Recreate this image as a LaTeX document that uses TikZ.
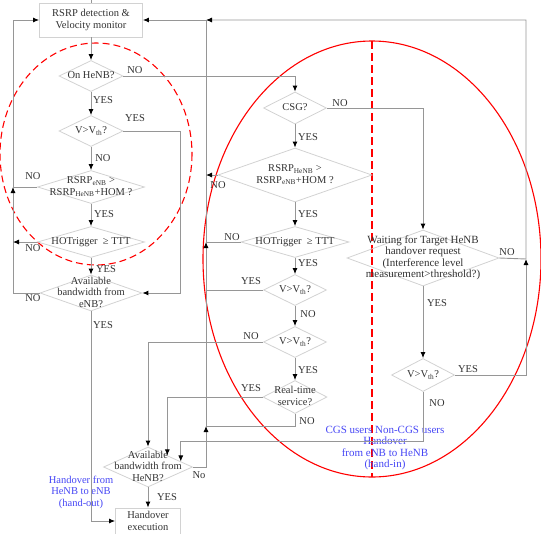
\documentclass[tikz,border=0pt]{standalone}
\usepackage{fontspec}
\setmainfont{Liberation Serif}
\usepackage{xcolor}
\usepackage{tikz}
\usetikzlibrary{arrows.meta, shapes.geometric, calc}
\definecolor{wiregray}{RGB}{150, 150, 150}
\definecolor{shapegray}{RGB}{210, 210, 210}
\definecolor{inkgray}{RGB}{50, 50, 50}
\definecolor{handblue}{RGB}{70, 70, 245}

% text inside a diamond, not counted in its size
\newcommand{\qtext}[1]{\makebox[0pt]{\smash{\raisebox{-3pt}{\begin{tabular}[c]{@{}c@{}}#1\end{tabular}}}}}

\tikzset{
  decision/.style={diamond, draw=shapegray, line width=0.8pt, inner sep=0pt},
  procbox/.style={rectangle, draw=shapegray, line width=0.8pt, align=center, inner sep=0pt},
  flow/.style={draw=wiregray, line width=0.9pt},
  arr/.style={flow, -{Latex[length=6pt, width=5pt, color=black]}},
  lbl/.style={inner sep=0pt},
  zone/.style={red, line width=1.1pt},
  bluenote/.style={text=handblue, align=center, inner sep=0pt}
}

\begin{document}
\begin{tikzpicture}[x=1pt, y=-1pt, font=\fontsize{10.5}{11.5}\selectfont, text=inkgray]
        \useasboundingbox (0, 0) rectangle (541, 533);
        \clip (0, 0) rectangle (541, 533);

        % Red zones
        \draw[zone, dash pattern=on 7pt off 4pt] (96, 154) ellipse [x radius=96, y radius=111];
        \draw[zone] (372, 259) ellipse [x radius=169, y radius=218];
        \draw[zone, line width=1.4pt, dash pattern=on 8pt off 4pt] (372, 41) -- (372, 477);

        % Left branch
        \node[procbox, minimum width=103, minimum height=34] (monitor) at (91, 20) {RSRP detection \&\\Velocity monitor};
        \node[decision, minimum width=64, minimum height=31] (onhenb) at (91, 76) {\qtext{On HeNB?}};
        \node[decision, minimum width=64, minimum height=31] (vleft) at (91, 131) {\qtext{V>V\textsubscript{th}?}};
        \node[decision, minimum width=107, minimum height=33] (rsrpenb) at (91, 187) {\qtext{RSRP\textsubscript{eNB} >\\RSRP\textsubscript{HeNB}+HOM ?}};
        \node[decision, minimum width=107, minimum height=31] (hotleft) at (91, 242) {\qtext{HOTrigger \ ≥ TTT}};
        \node[decision, minimum width=102, minimum height=36] (bwenb) at (91, 293) {\qtext{Available\\bandwidth from\\eNB?}};

        % Middle branch
        \node[decision, minimum width=63, minimum height=32] (csg) at (295, 108) {\qtext{CSG?}};
        \node[decision, minimum width=154, minimum height=54] (rsrphenb) at (295, 175) {\qtext{RSRP\textsubscript{HeNB} >\\RSRP\textsubscript{eNB}+HOM ?}};
        \node[decision, minimum width=108, minimum height=31] (hotright) at (295, 242) {\qtext{HOTrigger \ ≥ TTT}};
        \node[decision, minimum width=63, minimum height=31] (vright) at (295, 290) {\qtext{V>V\textsubscript{th}?}};
        \node[decision, minimum width=63, minimum height=31] (vrt) at (295, 342) {\qtext{V>V\textsubscript{th}?}};
        \node[decision, minimum width=64, minimum height=33] (realtime) at (295, 397) {\qtext{Real-time\\service?}};

        % Right branch
        \node[decision, minimum width=152, minimum height=56, font=\fontsize{11}{11.5}\selectfont] (waiting) at (423, 258) {\qtext{Waiting for Target HeNB\\handover request\\(Interference level\\measurement>threshold?)}};
        \node[decision, minimum width=63, minimum height=33] (vfar) at (423, 375) {\qtext{V>V\textsubscript{th}?}};

        % Bottom
        \node[decision, minimum width=89, minimum height=40] (bwhenb) at (148, 467) {\qtext{Available\\bandwidth from\\HeNB?}};
        \node[procbox, minimum width=65, minimum height=26] (handover) at (148, 521) {Handover\\execution};

        \node[bluenote] (handout) at (81, 492) {Handover from\\HeNB to eNB\\(hand-out)};
        \node[bluenote, font=\fontsize{11}{11.5}\selectfont] (handin) at (385, 448) {CGS users Non-CGS users\\Handover\\from eNB to HeNB\\(hand-in)};

        % Joints
        \coordinate (entry) at (91, 0);
        \coordinate (vbend) at (180, 131);
        \coordinate (jl) at (13, 187);
        \coordinate (jlh) at (13, 242);
        \coordinate (jt) at (206, 20);
        \coordinate (jmr) at (206, 175);
        \coordinate (jm) at (206, 242);
        \coordinate (jmb) at (206, 426);
        \coordinate (jr) at (526, 259);
        \coordinate (lowbend) at (423, 441);

        % Left connectors
        \draw[flow] (entry) -- (monitor.north);
        \draw[arr] (monitor.south) -- (onhenb.north);
        \draw[arr] (onhenb.south) -- (vleft.north);
        \draw[arr] (vleft.south) -- (rsrpenb.north);
        \draw[arr] (rsrpenb.south) -- (hotleft.north);
        \draw[arr] (hotleft.south) -- (bwenb.north);
        \draw[arr] (onhenb.east) -| (csg.north);
        \draw[arr] (vleft.east) -- (vbend) |- (bwenb.east);
        \draw[arr] (bwenb.west) -| (jl);
        \draw[arr] (rsrpenb.west) -- (jl) |- (monitor.west);
        \draw[arr] (hotleft.west) -- (jlh);
        \draw[arr] (bwenb.south) |- (handover.west);

        % Middle and right connectors
        \draw[arr] (csg.south) -- (rsrphenb.north);
        \draw[arr] (rsrphenb.south) -- (hotright.north);
        \draw[arr] (hotright.south) -- (vright.north);
        \draw[arr] (vright.south) -- (vrt.north);
        \draw[arr] (vrt.south) -- (realtime.north);
        \draw[arr] (csg.east) -| (waiting.north);
        \draw[arr] (waiting.south) -- (vfar.north);
        \draw[arr] (vfar.east) -| (jr);
        \draw[arr] (waiting.east) -- (jr) |- (jt);
        \draw[arr] (bwhenb.east) -| (jmb);
        \draw[arr] (realtime.south) |- (jmb) -- (jm);
        \draw[arr] (hotright.west) -- (jm) -- (jt) -- (monitor.east);
        \draw[arr] (rsrphenb.west) -- (jmr);
        \draw[flow] (vright.west) -- (vright.west -| jm);
        \draw[arr] (vrt.west) -| (bwhenb.north);
        \draw[arr] (realtime.west) -| ($(bwhenb.north)!0.43!(bwhenb.east)$);
        \draw[arr] (vfar.south) -- (lowbend) -| ($(bwhenb.north)!0.73!(bwhenb.east)$);
        \draw[arr] (bwhenb.south) -- (handover.north);

        % Branch labels
        \node[lbl] (onhenb-no) at (135, 70) {NO};
        \node[lbl] (onhenb-yes) at (103, 100) {YES};
        \node[lbl] (vleft-yes) at (135, 118) {YES};
        \node[lbl] (vleft-no) at (103, 158) {NO};
        \node[lbl] (rsrpenb-no) at (33, 176) {NO};
        \node[lbl] (rsrpenb-yes) at (104, 214) {YES};
        \node[lbl] (hotleft-no) at (33, 248) {NO};
        \node[lbl] (hotleft-yes) at (106, 269) {YES};
        \node[lbl] (bwenb-no) at (33, 298) {NO};
        \node[lbl] (bwenb-yes) at (103, 325) {YES};
        \node[lbl] (csg-no) at (340, 103) {NO};
        \node[lbl] (csg-yes) at (308, 137) {YES};
        \node[lbl] (rsrphenb-no) at (218, 185) {NO};
        \node[lbl] (rsrphenb-yes) at (308, 214) {YES};
        \node[lbl] (hotright-no) at (232, 237) {NO};
        \node[lbl] (hotright-yes) at (308, 263) {YES};
        \node[lbl] (vright-yes) at (251, 281) {YES};
        \node[lbl] (vright-no) at (308, 314) {NO};
        \node[lbl] (vrt-no) at (251, 336) {NO};
        \node[lbl] (vrt-yes) at (308, 370) {YES};
        \node[lbl] (realtime-yes) at (251, 388) {YES};
        \node[lbl] (realtime-no) at (307, 421) {NO};
        \node[lbl] (waiting-no) at (507, 252) {NO};
        \node[lbl] (waiting-yes) at (437, 303) {YES};
        \node[lbl] (vfar-yes) at (468, 369) {YES};
        \node[lbl] (vfar-no) at (437, 403) {NO};
        \node[lbl] (bwhenb-yes) at (167, 497) {YES};
        \node[lbl] (bwhenb-no) at (199, 475) {No};
    \end{tikzpicture}
\end{document}
